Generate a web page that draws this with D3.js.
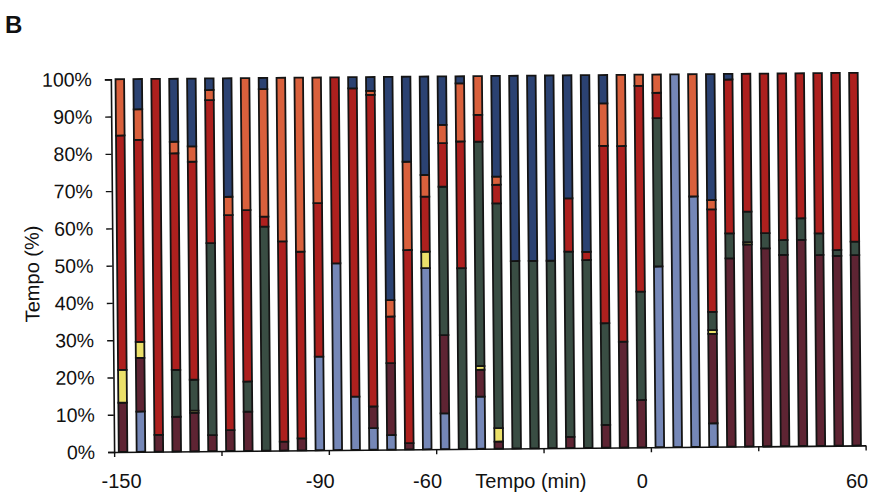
<!DOCTYPE html>
<html>
<head>
<meta charset="utf-8">
<script src="https://cdn.jsdelivr.net/npm/d3@7"></script>
<style>
  html, body { margin: 0; padding: 0; background: #fff; }
  svg { display: block; font-family: "Liberation Sans", Arial, sans-serif; }
</style>
</head>
<body>
<svg id="chart" width="871" height="504"></svg>
<script>
// Time intervals (min), one bar per 5-minute interval
const intervals = [-150, -145, -140, -135, -130, -125, -120, -115, -110, -105, -100, -95,
                   -90, -85, -80, -75, -70, -65, -60, -55, -50, -45, -40, -35,
                   -30, -25, -20, -15, -10, -5, 0, 5, 10, 15, 20, 25,
                   30, 35, 40, 45, 50, 55];

// Share of time (%) in each state, per interval
const lightBlue = [0, 10.8, 0, 0, 0, 0, 0, 0, 0, 0, 0, 25.1, 50.1, 14.3, 5.8, 3.9, 0, 48.6, 9.6, 0, 14.0,
                   0, 0, 0, 0, 0, 0, 0, 0, 0, 48.5, 100, 67.2, 6.3, 0, 0, 0, 0, 0, 0, 0, 0];
const maroon    = [13.2, 14.4, 4.5, 9.3, 10.3, 4.3, 5.6, 10.5, 0, 2.4, 3.2, 0, 0, 0, 5.8, 19.3, 1.7, 0, 21.0, 0, 7.2,
                   1.9, 0, 0, 0, 3.0, 0, 6.1, 28.4, 12.7, 0, 0, 0, 24.0, 50.5, 54.2, 53.1, 51.3, 55.3, 51.2, 50.9, 51.1];
const yellow    = [8.8, 4.3, 0, 0, 0.6, 0, 0, 0, 0, 0, 0, 0, 0, 0, 0, 0, 0, 4.4, 0, 0, 1.0,
                   3.6, 0, 0, 0, 0, 0, 0, 0, 0, 0, 0, 0, 1.0, 0, 0.6, 0, 0, 0, 0, 0, 0];
const green     = [0, 0, 0, 12.6, 8.3, 51.5, 0, 8.1, 60.1, 0, 0, 0, 0, 0, 0, 0, 0, 0, 39.8, 48.5, 60.2,
                   60.3, 50.3, 50.3, 50.3, 49.7, 50.4, 27.3, 0, 29.1, 39.8, 0, 0, 4.9, 6.7, 8.2, 4.1, 4.0, 5.8, 5.8, 1.6, 3.6];
const red       = [62.9, 54.2, 95.5, 58.1, 58.5, 38.4, 57.7, 46.0, 2.7, 53.7, 50.1, 41.2, 49.9, 82.7, 83.6, 12.5, 51.8, 14.8, 11.7, 34.0, 7.2,
                   5.0, 0, 0, 0, 14.3, 2.2, 47.6, 52.5, 55.2, 6.8, 0, 0, 27.5, 41.3, 37.0, 42.8, 44.7, 38.9, 43.0, 47.5, 45.3];
const orange    = [15.1, 8.2, 0, 3.1, 4.1, 2.7, 4.9, 35.4, 34.2, 43.9, 46.7, 33.7, 0, 0, 1.1, 4.4, 23.7, 5.8, 4.9, 15.6, 10.4,
                   2.2, 0, 0, 0, 0, 0, 11.4, 19.1, 3.0, 4.9, 0, 32.8, 2.5, 0, 0, 0, 0, 0, 0, 0, 0];
const navy      = [0, 8.1, 0, 16.9, 18.2, 3.1, 31.8, 0, 3.0, 0, 0, 0, 0, 3.0, 3.7, 59.9, 22.8, 26.4, 13.0, 1.9, 0,
                   27.0, 49.7, 49.7, 49.7, 33.0, 47.4, 7.6, 0, 0, 0, 0, 0, 33.8, 1.5, 0, 0, 0, 0, 0, 0, 0];

// Stacking order, bottom to top
const seriesNames  = ["lightBlue", "maroon", "yellow", "green", "red", "orange", "navy"];
const seriesValues = [lightBlue, maroon, yellow, green, red, orange, navy];
const seriesColors = ["#7587b7", "#5e2433", "#ebe06a", "#394d43", "#ad201e", "#d9603c", "#2b4272"];

// Axis labelling
const yTicks = [0, 0.1, 0.2, 0.3, 0.4, 0.5, 0.6, 0.7, 0.8, 0.9, 1.0];
const xTickTimes = [-150, -120, -90, -60, -30, 0, 30, 60];
const xLabelTimes = [-150, -90, -60, 0, 60];
const xTitleTime = -30;

const rows = intervals.map((t, i) => {
  const r = { t };
  seriesNames.forEach((n, k) => { r[n] = seriesValues[k][i]; });
  return r;
});

const stack = d3.stack().keys(seriesNames).offset(d3.stackOffsetExpand);
const layers = stack(rows);

const plotLeft = 112.5, plotRight = 864, plotTop = 76, plotBottom = 448.7;

const x = d3.scaleBand().domain(intervals).range([plotLeft, plotRight])
  .paddingInner(0.52).paddingOuter(0.26);
const xTime = d3.scaleLinear().domain([-150, 60]).range([plotLeft, plotRight]);
const y = d3.scaleLinear().domain([0, 1]).range([plotBottom, plotTop]);

const svg = d3.select("#chart");

// Panel letter
svg.append("text").attr("x", 5).attr("y", 33)
  .attr("font-size", 24).attr("font-weight", "bold").attr("fill", "#111").text("B");

// The plotted panel sits slightly tilted
const g = svg.append("g").attr("transform", "rotate(-0.5, 490, 265)");

// Stacked bars
layers.forEach((layer, k) => {
  g.append("g").selectAll("rect")
    .data(layer.filter(d => d[1] - d[0] > 0))
    .join("rect")
    .attr("x", d => x(d.data.t))
    .attr("width", x.bandwidth())
    .attr("y", d => y(d[1]))
    .attr("height", d => y(d[0]) - y(d[1]))
    .attr("fill", seriesColors[k])
    .attr("stroke", "#141414")
    .attr("stroke-width", 1.8);
});

// Y axis
const yAxis = d3.axisLeft(y).tickValues(yTicks).tickFormat(d3.format(".0%"))
  .tickSize(6).tickPadding(13);
const yg = g.append("g").attr("transform", `translate(${plotLeft},0)`).call(yAxis);
yg.select(".domain").attr("stroke", "#111").attr("stroke-width", 1.6);
yg.selectAll(".tick line").attr("stroke", "#111").attr("stroke-width", 1.4);
yg.selectAll(".tick text").attr("font-size", 19.5).attr("fill", "#111")
  .attr("font-family", "Liberation Sans, Arial, sans-serif");

// X axis: line and tick marks every 30 min
const xAxis = d3.axisBottom(xTime).tickValues(xTickTimes).tickFormat("").tickSize(5).tickSizeOuter(0);
const xg = g.append("g").attr("transform", `translate(0,${plotBottom})`).call(xAxis);
xg.select(".domain").attr("stroke", "#111").attr("stroke-width", 1.6);
xg.selectAll(".tick line").attr("stroke", "#111").attr("stroke-width", 1.4);

// X tick labels and axis title
svg.append("g").selectAll("text")
  .data(xLabelTimes)
  .join("text")
  .attr("x", (d, i) => xTime(d) + (i === 0 ? 9 : -7))
  .attr("y", 488)
  .attr("text-anchor", "middle")
  .attr("font-size", 20).attr("fill", "#111")
  .text(d => d);

svg.append("text")
  .attr("x", xTime(xTitleTime) - 11).attr("y", 488)
  .attr("text-anchor", "middle").attr("font-size", 20).attr("fill", "#111")
  .text("Tempo (min)");

// Y axis title
g.append("text")
  .attr("transform", "translate(39,270) rotate(-90)")
  .attr("text-anchor", "middle").attr("font-size", 20).attr("fill", "#111")
  .text("Tempo (%)");
</script>
</body>
</html>
